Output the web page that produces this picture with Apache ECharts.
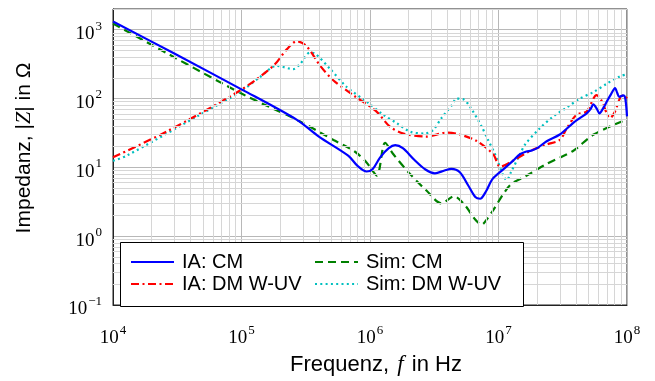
<!DOCTYPE html>
<html><head><meta charset="utf-8">
<script src="https://cdn.jsdelivr.net/npm/echarts@6/dist/echarts.min.js"></script>
<style>html,body{margin:0;padding:0;background:#fff}#c{width:655px;height:381px}</style>
</head><body><div id="c"></div>
<script>
// ---- data ----
const seriesNames = ['IA: CM', 'IA: DM W-UV', 'Sim: CM', 'Sim: DM W-UV'];

const iaCmFreq = [1e4,3e4,1e5,2.7e5,4e5,6.8e5,8e5,9.4e5,1.05e6,1.2e6,1.4e6,1.57e6,1.8e6,2.2e6,2.7e6,3.2e6,3.8e6,4.3e6,5e6,5.8e6,6.6e6,7.2e6,8e6,9e6,1.1e7,1.3e7,1.47e7,1.65e7,1.8e7,2e7,2.37e7,3e7,3.8e7,4.85e7,5.2e7,5.47e7,5.8e7,6.1e7,6.6e7,6.95e7,7.5e7,8.07e7,8.4e7,8.7e7,9.35e7,9.7e7,1e8];
const iaCmZ    = [1320,450,136,49,28,14.7,10.5,8.7,9.5,14,19,21,19,13,9.3,8.2,9.0,9.5,8.5,5.5,3.7,3.5,4.5,6.8,9.5,12.5,15.5,17,17.5,19,24,30,44,61,70,82,72,61,75,90,115,142,120,106,111,100,55];

const iaDmFreq = [1e4,2.6e4,1e5,1.77e5,2.25e5,2.69e5,3.2e5,4.1e5,5.2e5,7.4e5,1.12e6,1.43e6,1.82e6,2.75e6,3.95e6,5e6,6.8e6,9.1e6,1.03e7,1.23e7,1.76e7,2.37e7,3e7,3.4e7,4.05e7,4.85e7,5.8e7,6.3e7,7.4e7,8.07e7,8.8e7,9.4e7,1e8];
const iaDmZ    = [14,33,135,299,518,681,578,299,183,112,65,39,31,28,32,30,24,15.5,10.2,11.8,17.3,21.5,25,37,58,65,112,95,52,65,100,112,100];

const simCmFreq = [1e4,1e5,2.7e5,5.2e5,7.6e5,9.4e5,1.13e6,1.31e6,1.52e6,2.05e6,2.75e6,3.6e6,4.5e6,5.5e6,6.5e6,7.4e6,8.2e6,9.1e6,1.23e7,1.66e7,2.37e7,3.8e7,5.5e7,1e8];
const simCmZ    = [1230,118,49,25,17,11.8,7.6,22.8,15.5,8.0,4.6,3.0,3.8,2.8,1.8,1.47,1.8,2.4,5.5,7.6,11.2,17.3,30,50];

const simDmFreq = [1e4,1.27e4,4.75e4,9.7e4,1.39e5,1.88e5,2.53e5,2.85e5,3.41e5,3.7e5,4.9e5,6.6e5,9.4e5,1.27e6,1.61e6,2.05e6,2.68e6,3.1e6,3.6e6,4.33e6,4.73e6,5.3e6,6e6,7.4e6,8.3e6,9.4e6,1.09e7,1.16e7,1.25e7,1.47e7,1.61e7,2.1e7,2.67e7,3.4e7,4.3e7,5.47e7,6.95e7,8.83e7,1e8];
const simDmZ    = [12.4,14.7,58,124,204,299,268,316,464,454,268,147,90,58,44,33,31,35,52,80,100,98,76,39,25,15.5,7.6,6.5,8.5,15.5,21.5,37,55,74,100,124,164,211,225];

const xMin = 1e4, xMax = 1e8;
const yMin = 0.1, yMax = 2000;
// minor grid positions (2..9 times each decade)
const xMinorGrid = [], yMinorGrid = [];
for (let d = 1e4; d < 1e8; d *= 10) for (let m = 2; m <= 9; m++) xMinorGrid.push(m * d);
for (let d = 0.1; d < 2000; d *= 10) for (let m = 2; m <= 9; m++) if (m * d <= 2000) yMinorGrid.push(+(m * d).toPrecision(3));

const pairs = (f, z) => f.map((v, i) => [v, z[i]]);

const SANS = 'Liberation Sans';
const SERIF = 'Liberation Serif';
const supLabel = v => {
  const lg = Math.log10(v), e = Math.round(lg);
  if (Math.abs(lg - e) > 1e-6) return '';
  return '{b|10}{s|' + (e < 0 ? '\u2212' + (-e) : e) + '}';
};
const tickRich = {
  b: { fontFamily: SERIF, fontSize: 19, color: '#000', verticalAlign: 'bottom', padding: [5, 0, 0, 0] },
  s: { fontFamily: SERIF, fontSize: 13, color: '#000', verticalAlign: 'top', padding: [0, 0, 0, 1] }
};
const legendText = { fontFamily: SANS, fontSize: 20, color: '#000', lineHeight: 20, padding: [0, 0, 0, 3] };

const chart = echarts.init(document.getElementById('c'), null, { renderer: 'canvas' });
chart.setOption({
  animation: false,
  backgroundColor: '#fff',
  grid: { left: 113, right: 28, top: 9, bottom: 72, show: true, borderColor: '#222', borderWidth: 1, backgroundColor: 'transparent' },
  xAxis: {
    type: 'log', logBase: 10, min: xMin, max: xMax,
    name: 'Frequenz, {i|f} in Hz', nameLocation: 'middle', nameGap: 48,
    nameTextStyle: { fontFamily: SANS, fontSize: 22, color: '#000', padding: [0, 0, 0, 12],
      rich: { i: { fontFamily: SERIF, fontStyle: 'italic', fontSize: 23, color: '#000', padding: [0, 2, 0, 2] } } },
    axisLine: { show: true, lineStyle: { color: '#222', width: 1 } },
    axisTick: { show: false },
    axisLabel: { formatter: supLabel, margin: 19, rich: tickRich },
    splitLine: { show: true, lineStyle: { color: '#b8b8b8', width: 1 } },
    minorTick: { show: false }, minorSplitLine: { show: false }
  },
  yAxis: {
    type: 'log', logBase: 10, min: yMin, max: yMax,
    name: 'Impedanz, |{i|Z}| in Ω', nameLocation: 'middle', nameGap: 78,
    nameTextStyle: { fontFamily: SANS, fontSize: 21, color: '#000', padding: [0, 0, 0, 18],
      rich: { i: { fontFamily: SERIF, fontStyle: 'italic', fontSize: 22, color: '#000' } } },
    axisLine: { show: true, lineStyle: { color: '#222', width: 1 } },
    axisTick: { show: false },
    axisLabel: { formatter: supLabel, margin: 11, rich: tickRich, padding: [4, 0, 0, 0] },
    splitLine: { show: true, lineStyle: { color: '#b8b8b8', width: 1 } },
    minorTick: { show: false }, minorSplitLine: { show: false }
  },
  legend: [
    { data: [seriesNames[0], seriesNames[1]], orient: 'vertical', left: 130, top: 252, padding: 0,
      itemWidth: 43, itemHeight: 14, itemGap: 2, z: 20,
      itemStyle: { opacity: 0, borderWidth: 0 },
      textStyle: legendText },
    { data: [seriesNames[2], seriesNames[3]], orient: 'vertical', left: 314, top: 252, padding: 0,
      itemWidth: 43, itemHeight: 14, itemGap: 2, z: 20,
      itemStyle: { opacity: 0, borderWidth: 0 },
      textStyle: legendText }
  ],
  graphic: [
    { type: 'rect', z: 10, silent: true,
      shape: { x: 120.5, y: 242.5, width: 403, height: 64 },
      style: { fill: '#fff', stroke: '#000', lineWidth: 1 } }
  ],
  series: [
    { name: 'minor-grid', type: 'line', data: [], silent: true, z: 1, symbol: 'none',
      markLine: { silent: true, symbol: ['none', 'none'], label: { show: false }, animation: false,
        lineStyle: { color: '#d6d6d6', width: 1, type: 'solid' },
        data: xMinorGrid.map(v => ({ xAxis: v })).concat(yMinorGrid.map(v => ({ yAxis: v }))) } },
    { name: seriesNames[0], type: 'line', data: pairs(iaCmFreq, iaCmZ), symbol: 'none', smooth: 0.3, z: 5,
      color: '#0000ff', lineStyle: { color: '#0000ff', width: 2.2, type: 'solid' } },
    { name: seriesNames[1], type: 'line', data: pairs(iaDmFreq, iaDmZ), symbol: 'none', smooth: 0.3, z: 4,
      color: '#ff0000', lineStyle: { color: '#ff0000', width: 2.2, type: [8, 3.5, 2, 3.5] } },
    { name: seriesNames[2], type: 'line', data: pairs(simCmFreq, simCmZ), symbol: 'none', smooth: 0.3, z: 3,
      color: '#008000', lineStyle: { color: '#008000', width: 2.2, type: [8, 5] } },
    { name: seriesNames[3], type: 'line', data: pairs(simDmFreq, simDmZ), symbol: 'none', smooth: 0.3, z: 3,
      color: '#00bfbf', lineStyle: { color: '#00bfbf', width: 2.2, type: [2, 3.3] } }
  ]
});
</script></body></html>
